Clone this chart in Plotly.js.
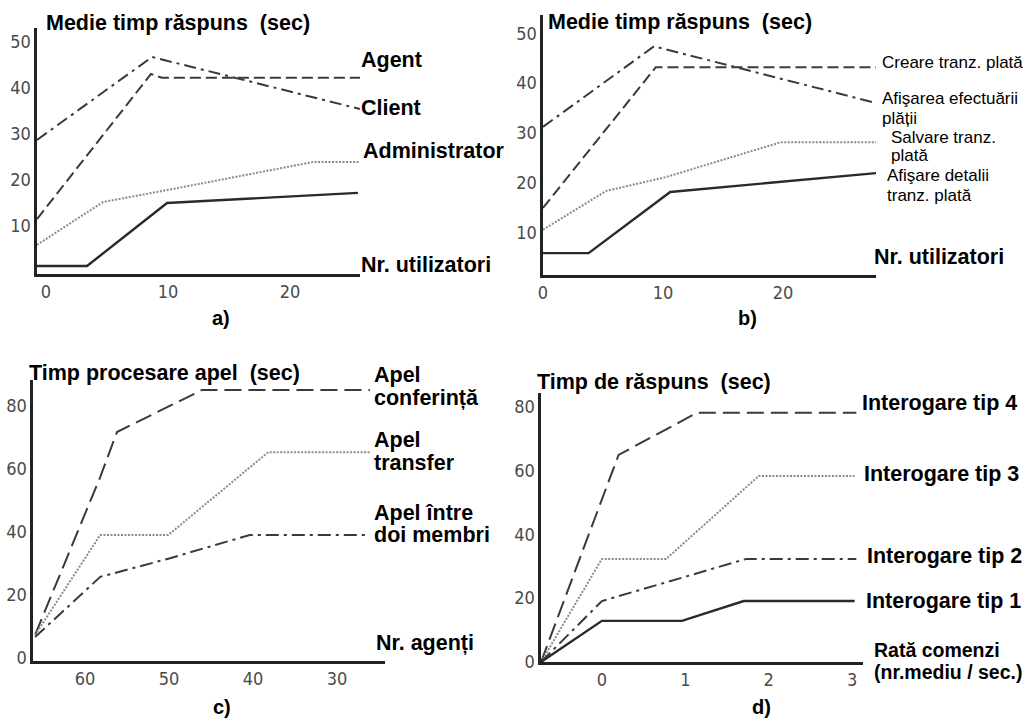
<!DOCTYPE html>
<html>
<head>
<meta charset="utf-8">
<script src="https://cdn.plot.ly/plotly-3.0.1.min.js"></script>
<style>html,body{margin:0;padding:0;background:#fff;}#chart{width:1028px;height:719px;}</style>
</head>
<body>
<div id="chart"></div>
<script>
// ---------- DATA ----------
// Panel a) Medie timp răspuns vs Nr. utilizatori
const aSolidX = [-0.74, 3.36, 9.92, 25.57];
const aSolidY = [1.3, 1.3, 15.0, 17.2];
const aAgentX = [-0.74, 8.6, 9.5, 25.74];
const aAgentY = [11.5, 43.0, 42.2, 42.2];
const aClientX = [-0.74, 8.69, 25.74];
const aClientY = [28.7, 46.7, 35.4];
const aAdminX = [-0.74, 4.67, 9.92, 21.9, 25.74];
const aAdminY = [5.9, 15.2, 17.8, 23.9, 23.9];

// Panel b) Medie timp răspuns vs Nr. utilizatori
const bDetaliiX = [0, 3.8, 10.6, 27.75];
const bDetaliiY = [5.8, 5.8, 18.1, 21.9];
const bCreareX = [0, 9.4, 27.75];
const bCreareY = [14.9, 43.2, 43.2];
const bAfisareX = [0, 9.25, 27.75];
const bAfisareY = [31.2, 47.4, 36.0];
const bSalvareX = [0, 5.25, 10.25, 19.8, 27.75];
const bSalvareY = [10.5, 18.3, 21.1, 28.1, 28.1];

// Panel c) Timp procesare apel vs Nr. agenți
const cConfX = [65.95, 58.2, 56.2, 46.1, 26.1];
const cConfY = [8.3, 58.4, 72.7, 86.0, 86.0];
const cTransX = [65.95, 58.2, 50.1, 38.2, 26.1];
const cTransY = [8.3, 40.0, 40.0, 66.3, 66.3];
const cMembriX = [65.95, 58.2, 50.2, 40.4, 26.1];
const cMembriY = [7.6, 26.7, 32.4, 40.0, 40.0];

// Panel d) Timp de răspuns vs Rată comenzi
const dTip4X = [-0.73, 0.2, 1.14, 3.05];
const dTip4Y = [0, 64.9, 78.1, 78.1];
const dTip3X = [-0.73, 0, 0.77, 1.88, 3.03];
const dTip3Y = [0, 32.3, 32.3, 58.3, 58.3];
const dTip2X = [-0.73, 0, 1.73, 3.05];
const dTip2Y = [0, 19.1, 32.3, 32.3];
const dTip1X = [-0.73, 0, 0.96, 1.7, 3.03];
const dTip1Y = [0, 12.9, 12.9, 19.1, 19.1];

// tick values / labels
const abXTicks = [0, 10, 20];
const abYTicks = [10, 20, 30, 40, 50];
const cXTicks = [60, 50, 40, 30];
const cdYTicks = [0, 20, 40, 60, 80];
const dXTicks = [0, 1, 2, 3];

// texts
const titlesText = ['Medie timp răspuns  (sec)', 'Medie timp răspuns  (sec)', 'Timp procesare apel  (sec)', 'Timp de răspuns  (sec)'];
const panelText = ['a)', 'b)', 'c)', 'd)'];
const aLabels = ['Agent', 'Client', 'Administrator', 'Nr. utilizatori'];
const bLabels = ['Creare tranz. plată', 'Afişarea efectuării', 'plății', 'Salvare tranz.', 'plată', 'Afişare detalii', 'tranz. plată'];
const bAxisLabel = 'Nr. utilizatori';
const cLabels = ['Apel', 'conferință', 'Apel', 'transfer', 'Apel între', 'doi membri', 'Nr. agenți'];
const dLabels = ['Interogare tip 4', 'Interogare tip 3', 'Interogare tip 2', 'Interogare tip 1', 'Rată comenzi', '(nr.mediu / sec.)'];

// ---------- LAYOUT ----------
const W = 1028, H = 719;
const fx = p => p / W;
const fy = p => 1 - p / H;

const solid = {color: '#2a2a2a', width: 2.4, dash: 'solid'};
const dashA = {color: '#3a3a3a', width: 2, dash: '11px,5px'};
const dashDotA = {color: '#3a3a3a', width: 2, dash: '12px,5px,3px,5px'};
const dotted = {color: '#8a8a8a', width: 2, dash: '2px,1.5px'};
const dashLong = {color: '#3a3a3a', width: 2, dash: '17px,7px'};
const dashDotLong = {color: '#3a3a3a', width: 2, dash: '13px,5px,3px,5px'};

function tr(x, y, line, ax) {
  return {x: x, y: y, mode: 'lines', line: line, xaxis: 'x' + ax, yaxis: 'y' + ax, hoverinfo: 'skip', showlegend: false};
}
const data = [
  tr(aSolidX, aSolidY, solid, ''), tr(aAgentX, aAgentY, dashA, ''), tr(aClientX, aClientY, dashDotA, ''), tr(aAdminX, aAdminY, dotted, ''),
  tr(bDetaliiX, bDetaliiY, solid, '2'), tr(bCreareX, bCreareY, dashA, '2'), tr(bAfisareX, bAfisareY, dashDotA, '2'), tr(bSalvareX, bSalvareY, dotted, '2'),
  tr(cConfX, cConfY, dashLong, '3'), tr(cTransX, cTransY, dotted, '3'), tr(cMembriX, cMembriY, dashDotLong, '3'),
  tr(dTip4X, dTip4Y, dashLong, '4'), tr(dTip3X, dTip3Y, dotted, '4'), tr(dTip2X, dTip2Y, dashDotLong, '4'), tr(dTip1X, dTip1Y, solid, '4')
];

const tickFont = {family: 'Liberation Sans Narrow, DejaVu Sans Condensed, sans-serif', size: 18, color: '#4a4a4a'};
function axis(extra) {
  return Object.assign({showgrid: false, zeroline: false, showline: true, linecolor: '#222', linewidth: 2.6,
    ticks: '', tickfont: tickFont, fixedrange: true, tickmode: 'array'}, extra);
}

const boldF = s => ({family: 'Liberation Sans, Arial, sans-serif', size: s, color: '#000', weight: 'bold'});
const regF = s => ({family: 'Liberation Sans, Arial, sans-serif', size: s, color: '#000'});
const annotations = [];
function ann(text, x, y, font, xanchor) {
  annotations.push({text: text, xref: 'paper', yref: 'paper', x: fx(x), y: fy(y), xanchor: xanchor || 'left', yanchor: 'middle', showarrow: false, font: font});
}
// titles
ann(titlesText[0], 44, 23, boldF(21.5));
ann(titlesText[1], 546, 22, boldF(21.5));
ann(titlesText[2], 27, 373, boldF(21.5));
ann(titlesText[3], 535, 382, boldF(21.5));
// panel letters
ann(panelText[0], 221, 318, boldF(20), 'center');
ann(panelText[1], 747, 318, boldF(20), 'center');
ann(panelText[2], 222, 707, boldF(20), 'center');
ann(panelText[3], 761, 707, boldF(20), 'center');
// a labels
ann(aLabels[0], 359, 60, boldF(21.5));
ann(aLabels[1], 359, 108, boldF(21.5));
ann(aLabels[2], 361, 151, boldF(21.5));
ann(aLabels[3], 359, 265, boldF(21.5));
// b labels
ann(bLabels[0], 880, 62, regF(17));
ann(bLabels[1], 880, 98, regF(17));
ann(bLabels[2], 880, 118, regF(17));
ann(bLabels[3], 889, 137, regF(17));
ann(bLabels[4], 889, 156, regF(17));
ann(bLabels[5], 885, 176, regF(17));
ann(bLabels[6], 885, 195, regF(17));
ann(bAxisLabel, 872, 257, boldF(21.5));
// c labels
ann(cLabels[0], 372, 375, boldF(21.5));
ann(cLabels[1], 372, 398, boldF(21.5));
ann(cLabels[2], 372, 440, boldF(21.5));
ann(cLabels[3], 372, 463, boldF(21.5));
ann(cLabels[4], 372, 513, boldF(21.5));
ann(cLabels[5], 372, 535, boldF(21.5));
ann(cLabels[6], 374, 643, boldF(21.5));
// d labels
ann(dLabels[0], 860, 403, boldF(21.5));
ann(dLabels[1], 862, 474, boldF(21.5));
ann(dLabels[2], 865, 556, boldF(21.5));
ann(dLabels[3], 864, 601, boldF(21.5));
ann(dLabels[4], 872, 650, boldF(19.5));
ann(dLabels[5], 872, 672, boldF(19.5));

const layout = {
  width: W, height: H, margin: {l: 0, r: 0, t: 0, b: 0},
  paper_bgcolor: '#fff', plot_bgcolor: 'rgba(0,0,0,0)', showlegend: false,
  xaxis: axis({domain: [fx(37), fx(360)], range: [-0.74, 25.74], tickvals: abXTicks, anchor: 'y'}),
  yaxis: axis({domain: [fy(274), fy(28)], range: [-0.43, 53], tickvals: abYTicks, anchor: 'x'}),
  xaxis2: axis({domain: [fx(543), fx(876)], range: [0, 27.75], tickvals: abXTicks, anchor: 'y2'}),
  yaxis2: axis({domain: [fy(275), fy(15)], range: [1.4, 53.7], tickvals: abYTicks, anchor: 'x2'}),
  xaxis3: axis({domain: [fx(33), fx(385)], range: [66.2, 24.3], tickvals: cXTicks, anchor: 'y3'}),
  yaxis3: axis({domain: [fy(661), fy(380)], range: [0, 89.2], tickvals: cdYTicks, anchor: 'x3', ticklabelshift: -3}),
  xaxis4: axis({domain: [fx(541), fx(863)], range: [-0.73, 3.13], tickvals: dXTicks, anchor: 'y4'}),
  yaxis4: axis({domain: [fy(662), fy(393)], range: [0, 84.3], tickvals: cdYTicks, anchor: 'x4'}),
  annotations: annotations
};

Plotly.newPlot('chart', data, layout, {staticPlot: true, displayModeBar: false});
</script>
</body>
</html>
